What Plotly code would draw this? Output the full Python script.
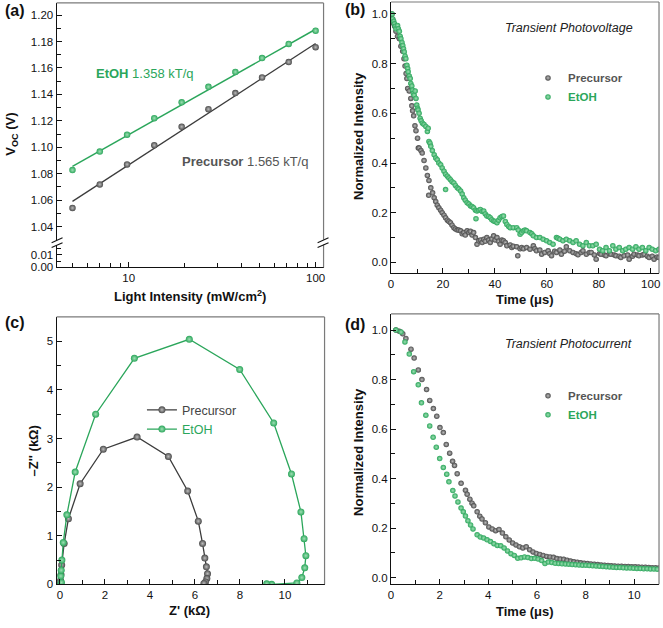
import plotly.graph_objects as go

W, H = 663, 628
FONT = "Liberation Sans, Arial, Helvetica, sans-serif"
GREEN = "#2ba65b"
GREEN_HI = "#9fe0b4"
GRAY = "#4a4a4a"
GRAY_HI = "#bdbdbd"
FRAME = "#7a7a7a"

def px(x):
    return x / W

def py(y):
    return 1 - y / H

# ---------------- (a) Voc vs light intensity ----------------
light_intensity = [5.0, 7.0, 9.8, 13.7, 19.2, 26.7, 37.2, 51.7, 71.8, 100.0]
voc_precursor = [1.054, 1.0718, 1.087, 1.1015, 1.1155, 1.1288, 1.141, 1.1528, 1.1645, 1.1757]
voc_etoh = [1.0827, 1.0967, 1.1095, 1.122, 1.134, 1.1457, 1.157, 1.1675, 1.1782, 1.1882]
fit_x = [5.0, 100.0]
fit_precursor = [1.059, 1.1785]
fit_etoh = [1.0855, 1.1893]

# ---------------- (b) Transient photovoltage ----------------
tpv_t_precursor = [0.3, 0.6, 1.0, 1.4, 1.9, 2.5, 3.2, 3.8, 4.5, 5.0, 5.4, 5.8, 6.1, 6.4, 7.0, 7.6, 8.0, 8.3, 8.7,
                   9.2, 9.6, 10.2, 10.5, 10.8, 11.5, 12.0, 12.7, 13.4, 14.0, 14.6, 14.5, 15.3, 16.0, 16.6, 17.2,
                   17.8, 18.4, 19.1, 19.7, 20.4, 21.0, 21.7, 22.3, 22.9, 23.5, 24.2, 24.8, 25.5, 26.1, 26.8, 27.4,
                   28.0, 28.6, 29.3, 30.0, 30.6, 31.2, 31.8, 32.5, 33.1, 33.8, 34.5, 35.1, 35.7, 36.3, 36.9, 37.6,
                   38.2, 38.8, 39.5, 40.1, 40.8, 41.4, 42.0, 42.7, 43.3, 44.0, 44.6, 45.9, 46.5, 47.1, 48.4, 48.8,
                   49.7, 50.3, 51.0, 52.2, 53.5, 54.8, 55.4, 56.0, 57.3, 58.0, 59.2, 60.5, 61.1, 61.8, 63.0, 63.7,
                   65.0, 65.6, 66.8, 67.5, 68.8, 70.1, 71.3, 72.0, 73.2, 73.9, 75.2, 76.4, 77.1, 78.3, 79.0, 80.3,
                   80.9, 82.2, 82.8, 84.1, 84.7, 86.0, 86.6, 87.9, 88.5, 89.8, 91.1, 91.7, 93.0, 93.6, 94.9, 95.5,
                   96.8, 97.5, 98.7, 99.4, 100.6, 101.3, 102.5, 103.2]
tpv_v_precursor = [1.0, 0.98, 0.96, 0.95, 0.93, 0.91, 0.90, 0.87, 0.85, 0.82, 0.79, 0.76, 0.74, 0.70, 0.69, 0.66,
                   0.63, 0.61, 0.59, 0.55, 0.53, 0.50, 0.46, 0.46, 0.45, 0.44, 0.41, 0.38, 0.35, 0.33, 0.27, 0.30,
                   0.28, 0.26, 0.245, 0.23, 0.22, 0.21, 0.20, 0.19, 0.18, 0.17, 0.165, 0.16, 0.15, 0.14, 0.135,
                   0.13, 0.13, 0.127, 0.115, 0.12, 0.11, 0.127, 0.12, 0.125, 0.11, 0.12, 0.10, 0.073, 0.087, 0.09,
                   0.08, 0.093, 0.085, 0.10, 0.09, 0.08, 0.095, 0.107, 0.09, 0.10, 0.085, 0.073, 0.09, 0.087, 0.08,
                   0.067, 0.07, 0.06, 0.065, 0.063, 0.027, 0.055, 0.06, 0.055, 0.06, 0.053, 0.067, 0.055, 0.047,
                   0.05, 0.033, 0.04, 0.047, 0.035, 0.027, 0.045, 0.04, 0.05, 0.033, 0.045, 0.063, 0.047, 0.04,
                   0.035, 0.031, 0.04, 0.047, 0.033, 0.04, 0.04, 0.03, 0.013, 0.035, 0.033, 0.03, 0.027, 0.035,
                   0.033, 0.03, 0.027, 0.025, 0.02, 0.027, 0.03, 0.013, 0.025, 0.033, 0.03, 0.027, 0.03, 0.033,
                   0.025, 0.02, 0.025, 0.013, 0.022, 0.02]
tpv_t_etoh = [0.4, 0.6, 1.0, 1.3, 1.6, 1.9, 2.5, 2.8, 3.2, 3.5, 3.8, 4.2, 4.5, 4.8, 5.1, 5.4, 5.7, 6.1, 6.4, 6.6,
              7.0, 7.4, 7.6, 8.0, 8.3, 8.6, 8.9, 9.3, 9.6, 9.9, 10.2, 10.4, 10.8, 11.2, 11.6, 12.1, 12.7, 13.4,
              14.0, 14.3, 14.6, 15.0, 15.3, 15.9, 16.6, 17.2, 17.8, 18.4, 19.1, 19.7, 20.4, 21.0, 21.0, 21.7,
              22.3, 22.9, 23.5, 24.2, 24.8, 25.5, 26.1, 26.8, 27.4, 28.0, 28.6, 29.3, 30.0, 30.6, 31.2, 31.8,
              32.5, 32.7, 33.1, 33.8, 34.4, 35.1, 35.7, 36.3, 36.9, 37.6, 38.2, 38.8, 39.5, 40.1, 40.8, 41.4,
              42.0, 42.7, 43.3, 44.0, 44.6, 45.3, 45.9, 47.1, 48.4, 49.0, 49.7, 50.3, 51.0, 51.6, 52.2, 53.5,
              54.2, 54.8, 56.0, 57.3, 58.6, 59.9, 61.1, 62.4, 63.7, 64.3, 65.0, 66.2, 67.5, 68.8, 70.1, 71.3,
              72.6, 73.9, 75.2, 76.4, 77.7, 79.0, 80.3, 81.5, 82.8, 84.1, 85.4, 86.6, 87.9, 89.2, 90.4, 91.7,
              93.0, 94.3, 95.5, 96.8, 98.1, 99.4, 100.6, 101.9, 103.2]
tpv_v_etoh = [1.0, 0.98, 0.97, 0.96, 0.95, 0.94, 0.953, 0.94, 0.93, 0.91, 0.90, 0.885, 0.873, 0.86, 0.847, 0.83,
              0.82, 0.793, 0.78, 0.767, 0.75, 0.74, 0.72, 0.71, 0.693, 0.68, 0.673, 0.69, 0.66, 0.633, 0.62,
              0.613, 0.60, 0.58, 0.57, 0.56, 0.555, 0.547, 0.527, 0.54, 0.487, 0.48, 0.467, 0.45, 0.433, 0.42,
              0.413, 0.40, 0.393, 0.38, 0.367, 0.293, 0.355, 0.347, 0.34, 0.333, 0.325, 0.32, 0.31, 0.30, 0.295,
              0.287, 0.275, 0.26, 0.25, 0.24, 0.235, 0.227, 0.225, 0.22, 0.21, 0.176, 0.207, 0.21, 0.213, 0.205,
              0.207, 0.195, 0.187, 0.185, 0.18, 0.172, 0.167, 0.165, 0.16, 0.17, 0.18, 0.185, 0.187, 0.165,
              0.153, 0.145, 0.14, 0.14, 0.14, 0.13, 0.113, 0.12, 0.127, 0.13, 0.127, 0.12, 0.115, 0.107, 0.10,
              0.10, 0.093, 0.087, 0.08, 0.073, 0.10, 0.097, 0.093, 0.087, 0.093, 0.087, 0.08, 0.087, 0.073,
              0.067, 0.08, 0.067, 0.067, 0.073, 0.053, 0.047, 0.06, 0.047, 0.067, 0.053, 0.06, 0.047, 0.053,
              0.06, 0.053, 0.063, 0.053, 0.06, 0.047, 0.06, 0.053, 0.047, 0.053]

# ---------------- (c) Nyquist plot ----------------
zre_precursor = [0.02, 0.03, 0.05, 0.08, 0.19, 0.38, 0.90, 1.93, 3.43, 4.82, 5.68, 6.15, 6.34, 6.44, 6.51, 6.56,
                 6.53, 6.47, 6.40]
zim_precursor = [0.0, 0.08, 0.20, 0.40, 0.84, 1.35, 2.07, 2.78, 3.03, 2.63, 1.92, 1.30, 0.84, 0.54, 0.36, 0.22,
                 0.12, 0.05, 0.02]
zre_etoh = [0.04, 0.07, 0.04, 0.06, 0.09, 0.15, 0.31, 0.68, 1.59, 3.31, 5.75, 7.99, 9.50, 10.29, 10.71, 10.85,
            10.93, 10.88, 10.75, 10.53, 9.41, 9.19]
zim_etoh = [0.0, 0.04, 0.17, 0.29, 0.50, 0.86, 1.43, 2.31, 3.50, 4.65, 5.04, 4.42, 3.32, 2.27, 1.49, 0.94, 0.59,
            0.34, 0.14, 0.03, 0.0, 0.01]

# ---------------- (d) Transient photocurrent ----------------
tpc_t_precursor = [0.20, 0.34, 0.48, 0.61, 0.82, 0.95, 1.12, 1.27, 1.46, 1.59, 1.74, 1.88, 2.01, 2.15, 2.27, 2.41,
                   2.53, 2.61, 2.72, 2.88, 3.06, 3.13, 3.24, 3.33, 3.40, 3.54, 3.65, 3.74, 3.88, 4.02, 4.16, 4.30,
                   4.44, 4.58, 4.72, 4.86, 5.00, 5.14, 5.28, 5.42, 5.56, 5.70, 5.84, 5.98, 6.12, 6.26, 6.40, 6.54,
                   6.68, 6.82, 6.96, 7.10, 7.24, 7.38, 7.52, 7.66, 7.80, 7.94, 8.08, 8.22, 8.36, 8.50, 8.64, 8.78,
                   8.92, 9.06, 9.20, 9.34, 9.48, 9.62, 9.76, 9.90, 10.04, 10.18, 10.32, 10.46, 10.60, 10.74, 10.88,
                   11.02]
tpc_v_precursor = [1.0, 0.995, 0.985, 0.966, 0.923, 0.887, 0.839, 0.80, 0.76, 0.716, 0.683, 0.652, 0.606, 0.586,
                   0.538, 0.503, 0.47, 0.453, 0.42, 0.381, 0.353, 0.337, 0.317, 0.301, 0.29, 0.266, 0.248, 0.237,
                   0.222, 0.205, 0.197, 0.19, 0.195, 0.18, 0.165, 0.152, 0.14, 0.132, 0.125, 0.12, 0.125, 0.113,
                   0.104, 0.098, 0.094, 0.09, 0.086, 0.084, 0.082, 0.077, 0.075, 0.074, 0.07, 0.067, 0.064, 0.062,
                   0.06, 0.058, 0.057, 0.055, 0.054, 0.053, 0.051, 0.05, 0.049, 0.048, 0.047, 0.046, 0.046, 0.045,
                   0.045, 0.044, 0.044, 0.043, 0.042, 0.042, 0.041, 0.040, 0.040, 0.039]
tpc_t_etoh = [0.20, 0.41, 0.57, 0.75, 0.93, 1.12, 1.25, 1.43, 1.59, 1.73, 1.86, 2.00, 2.15, 2.29, 2.38, 2.54, 2.63,
              2.75, 2.88, 2.97, 3.06, 3.16, 3.27, 3.37, 3.54, 3.67, 3.81, 3.95, 4.09, 4.23, 4.37, 4.51, 4.65, 4.79,
              4.93, 5.07, 5.21, 5.35, 5.49, 5.63, 5.77, 5.91, 6.05, 6.19, 6.33, 6.47, 6.61, 6.75, 6.89, 7.03, 7.17,
              7.31, 7.45, 7.59, 7.73, 7.87, 8.01, 8.15, 8.29, 8.43, 8.57, 8.71, 8.85, 8.99, 9.13, 9.27, 9.41, 9.55,
              9.69, 9.83, 9.97, 10.11, 10.25, 10.39, 10.53, 10.67, 10.81, 10.95]
tpc_v_etoh = [1.0, 0.992, 0.952, 0.903, 0.832, 0.779, 0.706, 0.656, 0.613, 0.567, 0.527, 0.481, 0.445, 0.418,
              0.387, 0.352, 0.33, 0.306, 0.281, 0.266, 0.249, 0.23, 0.213, 0.197, 0.173, 0.164, 0.16, 0.153,
              0.146, 0.137, 0.13, 0.129, 0.12, 0.108, 0.097, 0.09, 0.078, 0.08, 0.084, 0.081, 0.077, 0.078,
              0.075, 0.069, 0.057, 0.063, 0.061, 0.058, 0.057, 0.056, 0.055, 0.054, 0.053, 0.052, 0.051, 0.05,
              0.05, 0.049, 0.048, 0.047, 0.046, 0.045, 0.044, 0.043, 0.042, 0.041, 0.041, 0.04, 0.039, 0.039,
              0.038, 0.037, 0.037, 0.036, 0.036, 0.035, 0.035, 0.034]


def marker(color, hi, size):
    return dict(color=color, size=size, gradient=dict(type="radial", color=hi),
                line=dict(width=0))


def cname(text, color, bold=True):
    t = f"<span style='color:{color}'>{text}</span>"
    return f"<b>{t}</b>" if bold else t


fig = go.Figure()

# (a)
fig.add_trace(go.Scatter(x=fit_x, y=fit_precursor, mode="lines", line=dict(color="#3c3c3c", width=1.3),
                         xaxis="x", yaxis="y", showlegend=False))
fig.add_trace(go.Scatter(x=fit_x, y=fit_etoh, mode="lines", line=dict(color=GREEN, width=1.5),
                         xaxis="x", yaxis="y", showlegend=False))
fig.add_trace(go.Scatter(x=light_intensity, y=voc_precursor, mode="markers", marker=marker(GRAY, GRAY_HI, 6.5),
                         xaxis="x", yaxis="y", showlegend=False))
fig.add_trace(go.Scatter(x=light_intensity, y=voc_etoh, mode="markers", marker=marker(GREEN, GREEN_HI, 6.5),
                         xaxis="x", yaxis="y", showlegend=False))
fig.add_trace(go.Scatter(x=[], y=[], mode="markers", xaxis="x", yaxis="y2", showlegend=False))

# (b)
fig.add_trace(go.Scatter(x=tpv_t_precursor, y=tpv_v_precursor, mode="markers", marker=marker(GRAY, GRAY_HI, 5.5),
                         xaxis="x2", yaxis="y3", name=cname("Precursor", "#555555"), legend="legend"))
fig.add_trace(go.Scatter(x=tpv_t_etoh, y=tpv_v_etoh, mode="markers", marker=marker(GREEN, GREEN_HI, 5.5),
                         xaxis="x2", yaxis="y3", name=cname("EtOH", GREEN), legend="legend"))

# (c)
fig.add_trace(go.Scatter(x=zre_precursor, y=zim_precursor, mode="lines+markers",
                         line=dict(color="#3c3c3c", width=1.3), marker=marker(GRAY, GRAY_HI, 7),
                         xaxis="x3", yaxis="y4", name=cname("Precursor", "#444444", False), legend="legend2"))
fig.add_trace(go.Scatter(x=zre_etoh, y=zim_etoh, mode="lines+markers",
                         line=dict(color=GREEN, width=1.3), marker=marker(GREEN, GREEN_HI, 7),
                         xaxis="x3", yaxis="y4", name=cname("EtOH", GREEN, False), legend="legend2"))

# (d)
fig.add_trace(go.Scatter(x=tpc_t_precursor, y=tpc_v_precursor, mode="markers", marker=marker(GRAY, GRAY_HI, 5.5),
                         xaxis="x4", yaxis="y5", name=cname("Precursor", "#555555"), legend="legend3"))
fig.add_trace(go.Scatter(x=tpc_t_etoh, y=tpc_v_etoh, mode="markers", marker=marker(GREEN, GREEN_HI, 5.5),
                         xaxis="x4", yaxis="y5", name=cname("EtOH", GREEN), legend="legend3"))

tickfont = dict(family=FONT, size=11.5, color="#111111")
common = dict(showline=True, linecolor="#111111", linewidth=1.2, ticks="inside", ticklen=5, tickwidth=1,
              tickcolor="#111111", showgrid=False, zeroline=False, tickfont=tickfont, mirror=False,
              ticklabeloverflow="allow")
minor_style = dict(ticks="inside", ticklen=4, tickwidth=1, tickcolor="#111111", showgrid=False)

A_X = [px(54), px(323)]
B_X = [px(391), px(661)]
C_X = [px(54), px(324)]
D_X = [px(391), px(661)]

fig.update_layout(
    width=W, height=H, margin=dict(l=0, r=0, t=0, b=0),
    paper_bgcolor="white", plot_bgcolor="white",
    font=dict(family=FONT, color="#111111"),
    xaxis=dict(domain=A_X, anchor="y2", type="log", range=[0.614, 2.0426], tickvals=[10, 100],
               ticktext=["10", "100"],
               minor=dict(tickvals=[5, 6, 7, 8, 9, 20, 30, 40, 50, 60, 70, 80, 90], **minor_style), **common),
    yaxis=dict(domain=[py(242), py(3)], anchor="x", range=[1.03, 1.2092],
               tickvals=[1.04, 1.06, 1.08, 1.10, 1.12, 1.14, 1.16, 1.18, 1.20], tickformat=".2f",
               minor=dict(dtick=0.01, tick0=1.03, **minor_style), **common),
    yaxis2=dict(domain=[py(270), py(247)], anchor="x", range=[0, 0.0181], tickvals=[0, 0.01],
                ticktext=["0.00", "0.01"], minor=dict(tickvals=[0.005, 0.015], **minor_style), **common),
    xaxis2=dict(domain=B_X, anchor="y3", range=[0, 103.2], dtick=20, tick0=0,
                minor=dict(dtick=10, tick0=0, **minor_style), **common),
    yaxis3=dict(domain=[py(276), py(2)], anchor="x2", range=[-0.044, 1.048], dtick=0.2, tick0=0,
                tickformat=".1f", minor=dict(dtick=0.1, tick0=0, **minor_style), **common),
    xaxis3=dict(domain=C_X, anchor="y4", range=[-0.146, 11.76], dtick=2, tick0=0,
                minor=dict(dtick=1, tick0=0, **minor_style), **common),
    yaxis4=dict(domain=[py(590), py(320)], anchor="x3", range=[0, 5.5], dtick=1, tick0=0,
                minor=dict(dtick=0.5, tick0=0, **minor_style), **common),
    xaxis4=dict(domain=D_X, anchor="y5", range=[0, 11.02], dtick=2, tick0=0,
                minor=dict(dtick=1, tick0=0, **minor_style), **common),
    yaxis5=dict(domain=[py(590), py(317)], anchor="x4", range=[-0.027, 1.065], dtick=0.2, tick0=0,
                tickformat=".1f", minor=dict(dtick=0.1, tick0=0, **minor_style), **common),
    legend=dict(x=px(529), y=py(64), xanchor="left", yanchor="top", bgcolor="rgba(0,0,0,0)",
                font=dict(family=FONT, size=11.5), tracegroupgap=0, itemwidth=30),
    legend2=dict(x=px(140), y=py(399), xanchor="left", yanchor="top", bgcolor="rgba(0,0,0,0)",
                 font=dict(family=FONT, size=12.5), tracegroupgap=0, itemwidth=30),
    legend3=dict(x=px(529), y=py(385), xanchor="left", yanchor="top", bgcolor="rgba(0,0,0,0)",
                 font=dict(family=FONT, size=11.5), tracegroupgap=0, itemwidth=30),
)

shapes = []
def seg(x0, y0, x1, y1, color=FRAME, width=1.2):
    shapes.append(dict(type="line", xref="paper", yref="paper", x0=px(x0), y0=py(y0), x1=px(x1), y1=py(y1),
                       line=dict(color=color, width=width), layer="above"))

# frames (top and right sides, gray)
seg(54, 3, 323, 3)
seg(323, 3, 323, 242)
seg(323, 247, 323, 270)
seg(391, 2, 661, 2)
seg(661, 2, 661, 276)
seg(54, 320, 324, 320)
seg(324, 320, 324, 590)
seg(391, 317, 661, 317)
seg(661, 317, 661, 590)
# axis break marks
seg(49, 245, 60, 240, "#111111", 1.1)
seg(49, 250, 60, 245, "#111111", 1.1)
seg(317, 245, 328, 240, "#111111", 1.1)
seg(317, 250, 328, 245, "#111111", 1.1)
fig.update_layout(shapes=shapes)

ann = []
def text(x, y, s, size=13, color="#111111", xanchor="center", yanchor="middle", angle=0, italic=False):
    ann.append(dict(x=px(x), y=py(y), xref="paper", yref="paper", text=s, showarrow=False, xanchor=xanchor,
                    yanchor=yanchor, textangle=angle,
                    font=dict(family=FONT, size=size, color=color, style="italic" if italic else "normal")))

text(0, 10.5, "<b>(a)</b>", 16, xanchor="left")
text(343, 10, "<b>(b)</b>", 16, xanchor="left")
text(0, 326, "<b>(c)</b>", 16, xanchor="left")
text(343, 328, "<b>(d)</b>", 16, xanchor="left")

text(9, 135, "<b>V<sub>OC</sub> (V)</b>", 13, angle=-90)
text(188, 299, "<b>Light Intensity (mW/cm<sup>2</sup>)</b>", 13)
text(358, 137, "<b>Normalized Intensity</b>", 13, angle=-90)
text(526, 302, "<b>Time (μs)</b>", 13)
text(31, 455, "<b>–Z'' (kΩ)</b>", 13, angle=-90)
text(188, 616, "<b>Z' (kΩ)</b>", 13)
text(358, 456, "<b>Normalized Intensity</b>", 13, angle=-90)
text(526, 617, "<b>Time (μs)</b>", 13)

text(570, 28, "Transient Photovoltage", 12.5, "#222222", italic=True)
text(570, 347, "Transient Photocurrent", 12.5, "#222222", italic=True)

text(92, 74, "<b>EtOH</b> 1.358 kT/q", 13, GREEN, xanchor="left")
text(178, 163, "<b>Precursor</b> 1.565 kT/q", 13, "#555555", xanchor="left")

fig.update_layout(annotations=ann)

fig.write_html("out.html", config={"displayModeBar": False},
               post_script="document.body.style.margin='0';document.body.style.overflow='hidden';")
